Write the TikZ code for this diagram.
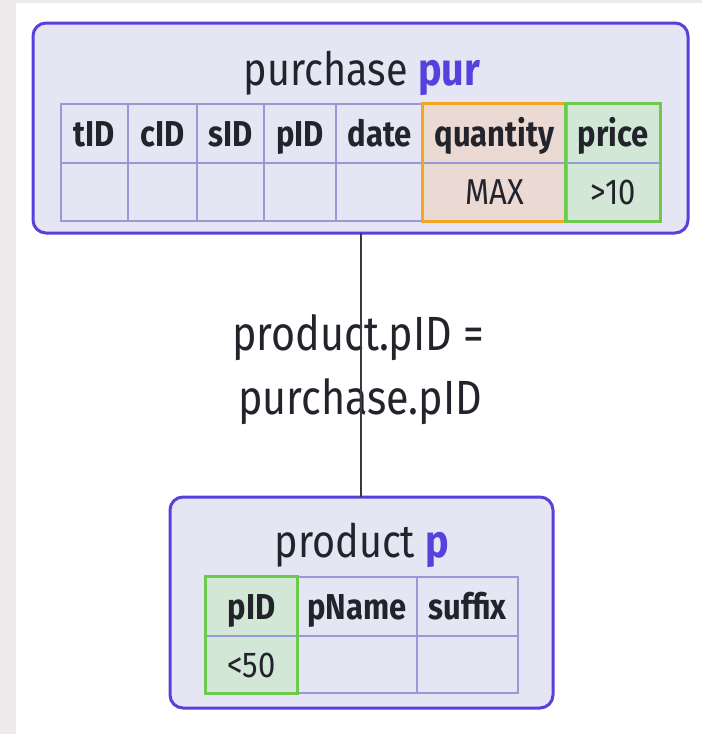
\documentclass[tikz,border=0pt]{standalone}
\usepackage{graphicx}
\usepackage{fontspec}
\setmainfont{Fira Sans}
\definecolor{pageedge}{HTML}{EEEAEB}
\definecolor{boxline}{HTML}{5840DC}
\definecolor{boxfill}{HTML}{E5E5F4}
\definecolor{gridline}{HTML}{9C98D6}
\definecolor{aggline}{HTML}{F5A524}
\definecolor{aggfill}{HTML}{EBD9D3}
\definecolor{selline}{HTML}{6CCB4C}
\definecolor{selfill}{HTML}{D3E7D7}
\definecolor{ink}{HTML}{23232B}
% slightly condensed lettering
\newcommand{\narrow}[1]{\scalebox{0.86}[1]{#1}}
\newcommand{\alias}[1]{\textcolor{boxline}{\bfseries #1}}
\tikzset{
  relbox/.style={draw=boxline, line width=3pt, fill=boxfill, rounded corners=13pt},
  cell/.style={draw=gridline, line width=1.3pt, inner sep=0pt, text=ink,
    text height=25pt, text depth=0pt},
  head/.style={cell, font=\fontsize{36}{40}\selectfont\bfseries},
  val/.style={cell, font=\fontsize{36}{40}\selectfont},
  title/.style={anchor=base, text=ink, inner sep=0pt, font=\fontsize{46}{50}\selectfont},
  aggframe/.style={draw=aggline, line width=3.5pt},
  selframe/.style={draw=selline, line width=3.5pt},
  joinlabel/.style={anchor=base, text=ink, inner sep=0pt, font=\fontsize{48}{52}\selectfont},
  joinline/.style={draw=ink!90, line width=2.6pt}
}
\begin{document}
\begin{tikzpicture}[x=1pt, y=-1pt]
  % page
  \fill[white] (0,0) rectangle (702,734);
  \fill[pageedge] (0,0) rectangle (16,734);
  \fill[pageedge] (0,0) rectangle (702,3);
  \useasboundingbox (0,0) rectangle (702,734);

  % relation purchase
  \path[relbox] (33,23) rectangle (688,233);
  \node[title] (purT) at (362,85) {\narrow{purchase \alias{pur}}};
  \foreach \n/\cx/\w in {tID/94.5/67, cID/162.5/69, sID/230.5/67, pID/300/72, date/379.5/87}{
    \node[head, minimum width=\w pt, minimum height=59pt] (h-\n) at (\cx,133.5) {\narrow{\n}};
    \node[val, minimum width=\w pt, minimum height=58pt] (v-\n) at (\cx,192) {};
  }
  \node[head, fill=aggfill, minimum width=143pt, minimum height=59pt] (h-qty) at (494.5,133.5) {\narrow{quantity}};
  \node[val, fill=aggfill, minimum width=143pt, minimum height=58pt] (v-qty) at (494.5,192) {\narrow{MAX}};
  \node[head, fill=selfill, minimum width=94pt, minimum height=59pt] (h-price) at (613,133.5) {\narrow{price}};
  \node[val, fill=selfill, minimum width=94pt, minimum height=58pt] (v-price) at (613,192) {\narrow{>10}};
  \draw[aggframe] (h-qty.north west) rectangle (v-qty.south east);
  \draw[selframe] (h-price.north west) rectangle (v-price.south east);

  % relation product
  \path[relbox] (170,497) rectangle (553,708);
  \node[title] (pT) at (362,557) {\narrow{product \alias{p}}};
  \node[head, fill=selfill, minimum width=91pt, minimum height=59pt] (h-ppid) at (251.5,606.5) {\narrow{pID}};
  \node[val, fill=selfill, minimum width=91pt, minimum height=57pt] (v-ppid) at (251.5,664.5) {\narrow{<50}};
  \node[head, minimum width=120pt, minimum height=59pt] (h-pname) at (357,606.5) {\narrow{pName}};
  \node[val, minimum width=120pt, minimum height=57pt] (v-pname) at (357,664.5) {};
  \node[head, minimum width=101pt, minimum height=59pt] (h-suffix) at (467.5,606.5) {\narrow{suffix}};
  \node[val, minimum width=101pt, minimum height=57pt] (v-suffix) at (467.5,664.5) {};
  \draw[selframe] (h-ppid.north west) rectangle (v-ppid.south east);

  % join condition
  \node[joinlabel] (cond1) at (358,350) {\narrow{product.pID =}};
  \node[joinlabel] (cond2) at (360,414) {\narrow{purchase.pID}};
  \draw[joinline] (361,233) coordinate (jtop) -- (361,497) coordinate (jbot);
\end{tikzpicture}
\end{document}
